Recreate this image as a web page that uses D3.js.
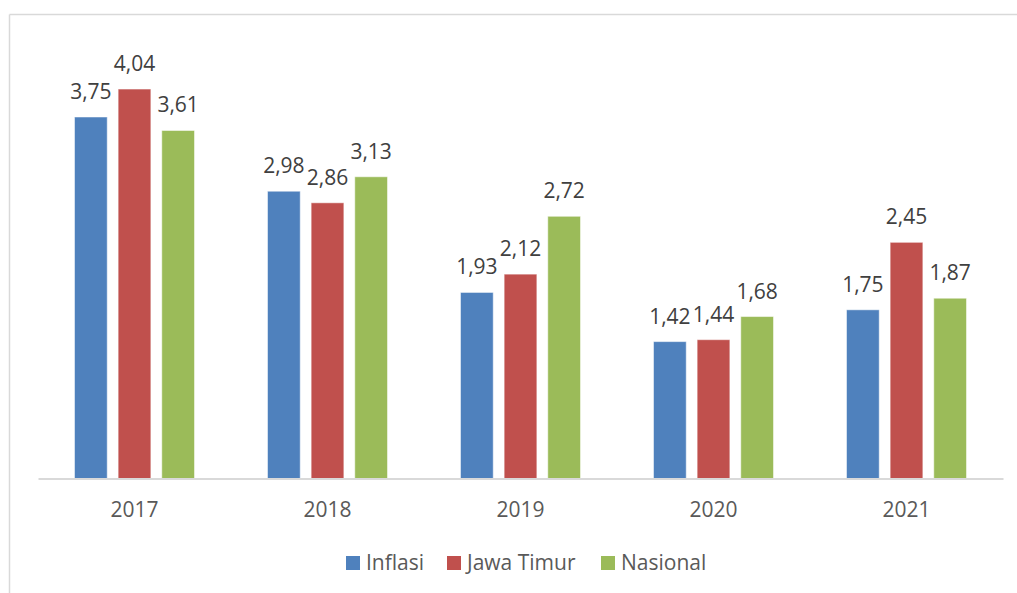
<!DOCTYPE html>
<html><head><meta charset="utf-8">
<script src="https://cdn.jsdelivr.net/npm/d3@7"></script>
<style>body{margin:0;background:#fff;}svg{display:block;font-family:"Open Sans","Noto Sans",sans-serif;}</style>
</head><body><svg id="c" width="1017" height="593"></svg>
<script>
const categories = ["2017","2018","2019","2020","2021"];
const seriesNames = ["Inflasi","Jawa Timur","Nasional"];
const inflasi = [3.75,2.98,1.93,1.42,1.75];
const jawaTimur = [4.04,2.86,2.12,1.44,2.45];
const nasional = [3.61,3.13,2.72,1.68,1.87];
const colors = ["#4F81BD","#C0504D","#9BBB59"];
const series = [inflasi, jawaTimur, nasional];

const svg = d3.select("#c");
// frame
svg.append("line").attr("x1",9.5).attr("x2",1017).attr("y1",14.5).attr("y2",14.5).attr("stroke","#d9d9d9").attr("stroke-width",1.5);
svg.append("line").attr("x1",9.5).attr("x2",9.5).attr("y1",14.5).attr("y2",593).attr("stroke","#d9d9d9").attr("stroke-width",1.5);

const left=38, right=1003, base=478.5;
const x = d3.scaleBand().domain(categories).range([left,right]);
const y = d3.scaleLinear().domain([0,4.5]).range([base, base-4.5*96.4]);
const inner = d3.scaleBand().domain(seriesNames).range([0,120]).paddingInner(0.25);
const groupOff = (x.bandwidth()-120)/2;

seriesNames.forEach((name,si)=>{
  const g = svg.append("g");
  g.selectAll("rect").data(series[si]).join("rect")
    .attr("x",(d,i)=>x(categories[i])+groupOff+inner(name))
    .attr("width",inner.bandwidth())
    .attr("y",d=>y(d))
    .attr("height",d=>base-y(d))
    .attr("fill",colors[si])
    .attr("stroke","rgba(255,255,255,0.5)").attr("stroke-width",1);
  g.selectAll("text").data(series[si]).join("text")
    .attr("x",(d,i)=>x(categories[i])+groupOff+inner(name)+inner.bandwidth()/2)
    .attr("y",d=>y(d)-18)
    .attr("text-anchor","middle")
    .attr("font-size",21)
    .attr("fill","#404040")
    .text(d=>d3.format(".2f")(d).replace(".",","));
});

const ax = d3.axisBottom(x).tickSize(0).tickPadding(0);
const axg = svg.append("g").attr("transform",`translate(0,${base})`).call(ax);
axg.select(".domain").attr("stroke","#d9d9d9").attr("stroke-width",2);
axg.selectAll("text").attr("font-size",21).attr("fill","#595959").attr("font-family","'Open Sans','Noto Sans',sans-serif").attr("dy",null).attr("y",38.5);

// legend
const legX = [346,447,601];
const lg = svg.append("g");
seriesNames.forEach((n,i)=>{
  lg.append("rect").attr("x",legX[i]).attr("y",556).attr("width",14).attr("height",14).attr("fill",colors[i]);
  lg.append("text").attr("x",legX[i]+20).attr("y",569.5).attr("font-size",21).attr("fill","#595959").text(n);
});
</script></body></html>
